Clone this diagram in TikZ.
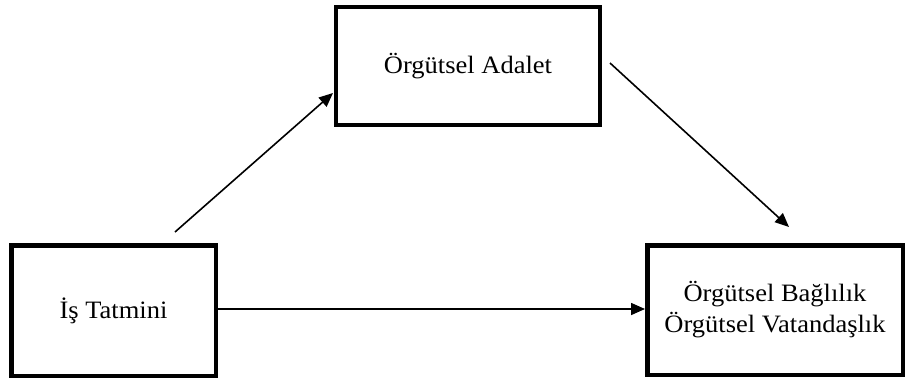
\documentclass[tikz,border=0pt]{standalone}
\usepackage{fontspec}
\setmainfont{Liberation Serif}[FakeStretch=1.06]
\usetikzlibrary{arrows.meta}
\begin{document}
\begin{tikzpicture}[x=1pt,y=-1pt,
  box/.style={draw=black,line width=4.5pt,fill=white,align=center,font=\fontsize{25}{31}\selectfont,inner sep=0pt},
  arr/.style={line width=1.6pt,-{Triangle[length=14pt,width=12pt]}}]
\useasboundingbox (0,0) rectangle (909,380);
\node[box,minimum width=264pt,minimum height=118pt] (oa) at (468,66) {Örgütsel Adalet};
\node[box,minimum width=204.5pt,minimum height=130.5pt] (it) at (113.5,310.5) {İş Tatmini};
\node[box,minimum width=255.5pt,minimum height=129.5pt] (ob) at (775,310) {Örgütsel Bağlılık\\Örgütsel Vatandaşlık};
\coordinate (a1s) at (175,232);
\coordinate (a1e) at (333,93);
\coordinate (a2s) at (610,63);
\coordinate (a2e) at (789,227);
\draw[arr] (a1s) -- (a1e);
\draw[arr] (a2s) -- (a2e);
\draw[arr] (it.east |- 0,309) -- (ob.west |- 0,309);
\end{tikzpicture}
\end{document}
